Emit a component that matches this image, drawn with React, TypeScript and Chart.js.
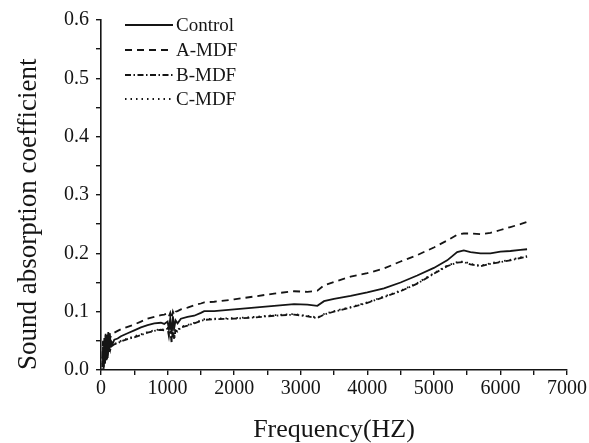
import React, { useEffect, useRef } from "react";
import { Chart, registerables } from "chart.js";

Chart.register(...registerables);

const FREQ = [20, 30, 40, 50, 60, 70, 80, 90, 100, 110, 120, 130, 140, 150, 175, 200, 250, 300, 400, 500, 600, 700, 800, 900, 950, 1000, 1020, 1040, 1060, 1080, 1100, 1120, 1150, 1200, 1300, 1400, 1500, 1550, 1700, 2000, 2300, 2600, 2900, 3100, 3250, 3350, 3500, 3750, 4000, 4250, 4500, 4750, 5000, 5200, 5350, 5450, 5550, 5700, 5850, 6000, 6150, 6300, 6400];

const CONTROL = [0.01, 0.04, 0.005, 0.05, 0.015, 0.06, 0.02, 0.055, 0.025, 0.062, 0.035, 0.058, 0.04, 0.05, 0.045, 0.052, 0.054, 0.058, 0.063, 0.068, 0.073, 0.077, 0.08, 0.081, 0.079, 0.083, 0.07, 0.088, 0.062, 0.092, 0.072, 0.085, 0.08, 0.088, 0.091, 0.093, 0.098, 0.101, 0.101, 0.104, 0.107, 0.11, 0.113, 0.112, 0.11, 0.118, 0.122, 0.127, 0.133, 0.14, 0.15, 0.162, 0.175, 0.188, 0.202, 0.205, 0.202, 0.2, 0.2, 0.203, 0.204, 0.206, 0.207];

const A_MDF = [0.02, 0.05, 0.01, 0.055, 0.02, 0.062, 0.03, 0.06, 0.04, 0.065, 0.05, 0.064, 0.055, 0.06, 0.062, 0.064, 0.067, 0.07, 0.074, 0.078, 0.083, 0.088, 0.091, 0.094, 0.095, 0.097, 0.092, 0.098, 0.088, 0.1, 0.094, 0.1, 0.101, 0.104, 0.107, 0.111, 0.114, 0.116, 0.117, 0.121, 0.126, 0.131, 0.135, 0.134, 0.136, 0.145, 0.151, 0.16, 0.166, 0.174, 0.186, 0.197, 0.21, 0.222, 0.232, 0.234, 0.234, 0.233, 0.235, 0.24, 0.245, 0.25, 0.254];

const B_MDF = [0.005, 0.03, 0.0, 0.04, 0.01, 0.045, 0.015, 0.04, 0.02, 0.045, 0.03, 0.042, 0.035, 0.04, 0.042, 0.044, 0.046, 0.049, 0.053, 0.056, 0.06, 0.064, 0.067, 0.069, 0.068, 0.071, 0.058, 0.075, 0.046, 0.07, 0.052, 0.068, 0.066, 0.073, 0.076, 0.08, 0.084, 0.086, 0.087, 0.088, 0.09, 0.093, 0.095, 0.092, 0.089, 0.095, 0.1, 0.107, 0.115, 0.125, 0.135, 0.148, 0.165, 0.178, 0.184, 0.185, 0.181, 0.178, 0.182, 0.185, 0.188, 0.192, 0.194];

const C_MDF = [0.0, 0.035, 0.005, 0.038, 0.012, 0.048, 0.018, 0.042, 0.025, 0.047, 0.032, 0.044, 0.036, 0.041, 0.043, 0.045, 0.047, 0.05, 0.054, 0.058, 0.061, 0.065, 0.068, 0.07, 0.069, 0.072, 0.062, 0.073, 0.05, 0.072, 0.056, 0.07, 0.068, 0.074, 0.077, 0.081, 0.085, 0.087, 0.088, 0.089, 0.091, 0.094, 0.096, 0.093, 0.09, 0.096, 0.101, 0.108, 0.116, 0.126, 0.136, 0.149, 0.166, 0.179, 0.185, 0.186, 0.182, 0.179, 0.183, 0.186, 0.189, 0.193, 0.195];

const SERIES_LABELS = ["Control", "A-MDF", "B-MDF", "C-MDF"];
const SERIES_DASH: number[][] = [[], [7, 5], [6, 2.5, 1.5, 2.5], [1.5, 4]];
const X_TITLE = "Frequency(HZ)";
const Y_TITLE = "Sound absorption coefficient";

const SERIF = "'Liberation Serif', 'DejaVu Serif', serif";
const INK = "#151515";

const legendPlugin = {
  id: "customLegend",
  afterDraw(chart: any) {
    const ctx = chart.ctx;
    ctx.save();
    const ys = [25, 50, 75, 99];
    SERIES_LABELS.forEach((label, i) => {
      const y = ys[i];
      ctx.beginPath();
      ctx.setLineDash(SERIES_DASH[i]);
      ctx.lineWidth = 1.8;
      ctx.strokeStyle = INK;
      ctx.moveTo(125, y);
      ctx.lineTo(173, y);
      ctx.stroke();
      ctx.setLineDash([]);
      ctx.fillStyle = INK;
      ctx.font = `19px ${SERIF}`;
      ctx.textAlign = "left";
      ctx.textBaseline = "middle";
      ctx.fillText(label, 176, y + 1);
    });
    ctx.restore();
  },
};

export default function App() {
  const ref = useRef<HTMLCanvasElement | null>(null);

  useEffect(() => {
    document.body.style.margin = "0";
    const canvas = ref.current;
    if (!canvas) return;
    const mk = (arr: number[]) => FREQ.map((f, i) => ({ x: f, y: arr[i] }));
    const allSeries = [CONTROL, A_MDF, B_MDF, C_MDF];
    const chart = new Chart(canvas, {
      type: "line",
      data: {
        datasets: allSeries.map((s, i) => ({
          label: SERIES_LABELS[i],
          data: mk(s),
          borderColor: INK,
          borderWidth: 1.8,
          borderDash: SERIES_DASH[i],
          pointRadius: 0,
          tension: 0,
          fill: false,
        })),
      },
      options: {
        responsive: false,
        animation: false,
        layout: { padding: { top: 20, right: 22, left: 0, bottom: 0 } },
        plugins: { legend: { display: false }, tooltip: { enabled: false } },
        scales: {
          x: {
            type: "linear",
            min: 0,
            max: 7000,
            afterFit: (s: any) => {
              s.height = 73;
            },
            border: { display: true, color: INK, width: 1.6 },
            grid: { display: true, drawOnChartArea: false, drawTicks: true, tickLength: 5, color: INK, lineWidth: 1.4 },
            ticks: {
              stepSize: 500,
              autoSkip: false,
              maxRotation: 0,
              padding: 2,
              color: INK,
              font: { family: SERIF, size: 20 },
              callback: (v: any) => (Number(v) % 1000 === 0 ? String(v) : ""),
            },
            title: {
              display: true,
              text: X_TITLE,
              color: INK,
              font: { family: SERIF, size: 26, lineHeight: 1 },
              padding: { top: 0, bottom: 0 },
            },
          },
          y: {
            min: 0,
            max: 0.6,
            afterFit: (s: any) => {
              s.width = 101;
            },
            border: { display: true, color: INK, width: 1.6 },
            grid: { display: true, drawOnChartArea: false, drawTicks: true, tickLength: 5, color: INK, lineWidth: 1.4 },
            ticks: {
              stepSize: 0.05,
              autoSkip: false,
              padding: 7,
              color: INK,
              font: { family: SERIF, size: 20 },
              callback: (v: any) => {
                const n = Math.round(Number(v) * 100);
                return n % 10 === 0 ? (n / 100).toFixed(1) : "";
              },
            },
            title: {
              display: true,
              text: Y_TITLE,
              align: "start",
              color: INK,
              font: { family: SERIF, size: 27, lineHeight: 1 },
              padding: { top: 15, bottom: 0 },
            },
          },
        },
      },
      plugins: [legendPlugin],
    } as any);
    return () => chart.destroy();
  }, []);

  return (
    <div style={{ position: "absolute", left: 0, top: 0, width: 589, height: 443, background: "#fff" }}>
      <canvas ref={ref} width={589} height={443} style={{ display: "block" }} />
    </div>
  );
}
